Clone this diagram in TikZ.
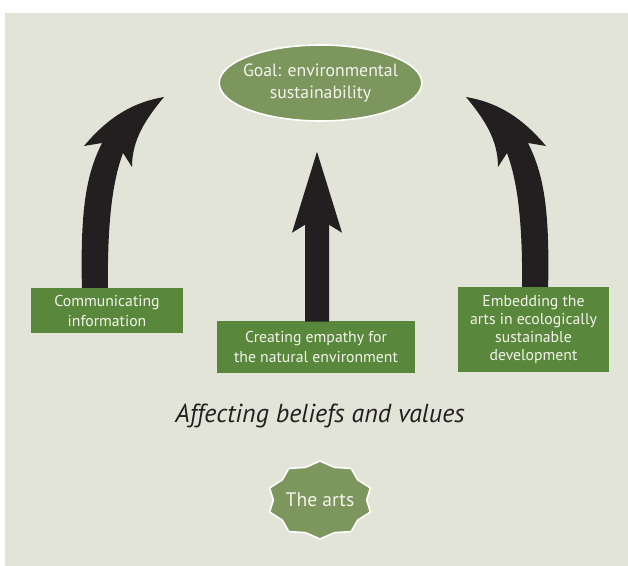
\documentclass[tikz,border=0pt]{standalone}
\usepackage{fontspec}
\setmainfont{PT Sans}
\usetikzlibrary{shapes.geometric}
\definecolor{panel}{HTML}{E1E4D6}
\definecolor{leaf}{HTML}{59873B}
\definecolor{olive}{HTML}{7C965D}
\definecolor{ink}{HTML}{231F20}
\definecolor{paper}{HTML}{F4F4EC}
\begin{document}
\begin{tikzpicture}[x=0.75pt,y=-0.75pt,
  actionbox/.style={rectangle, fill=leaf, text=paper, inner sep=0pt, align=center,
    font=\fontsize{11.8}{15}\selectfont},
  goalshape/.style={ellipse, fill=olive, draw=white, line width=1.2pt, text=paper,
    inner xsep=-6pt, inner ysep=0pt, align=center, minimum width=152pt, minimum height=57pt,
    font=\fontsize{13.3}{16}\selectfont},
  bigarrow/.style={fill=ink}]
\useasboundingbox (0,0) rectangle (628,566);
\fill[panel] (5,13) rectangle (628,566);

% goal at the top
\node[goalshape] (goal) at (320.5,83) {Goal: environmental\\sustainability};

% curved arrow on the left, mirrored for the right one
\fill[bigarrow] (82,292) .. controls (80,210) and (86,175) .. (102,143)
  -- (84,146) .. controls (110,115) and (135,102) .. (164,97)
  .. controls (145,120) and (132,140) .. (132,167)
  -- (123,153) .. controls (113,180) and (107,220) .. (108,292) -- cycle;
\begin{scope}[shift={(630,0)}, xscale=-1]
\fill[bigarrow] (82,292) .. controls (80,210) and (86,175) .. (102,143)
  -- (84,146) .. controls (110,115) and (135,102) .. (164,97)
  .. controls (145,120) and (132,140) .. (132,167)
  -- (123,153) .. controls (113,180) and (107,220) .. (108,292) -- cycle;
\end{scope}

% the three ways the arts act
\node[actionbox, minimum width=114pt, minimum height=33.75pt] (info) at (107,310.5)
  {Communicating\\information};
\node[actionbox, minimum width=148.5pt, minimum height=39pt] (empathy) at (316,347)
  {Creating empathy for\\the natural environment};
\node[actionbox, minimum width=113.25pt, minimum height=63.75pt,
  font=\fontsize{11.8}{13.5}\selectfont] (embed) at (533.5,329.5)
  {Embedding the\\arts in ecologically\\sustainable\\development};

% straight arrow rising from the middle box
\fill[bigarrow] (empathy.north) ++(-11,1) -- ++(0,-97) -- ++(-13,8) -- ++(25,-81)
  -- ++(25,81) -- ++(-13,-8) -- ++(0,97) -- cycle;

\node[font=\fontsize{19.5}{22}\selectfont\itshape, text=ink] (theme) at (320,416)
  {Affecting beliefs and values};

% ten-pointed badge
\begin{scope}[shift={(320,500)}]
\draw[fill=olive, draw=white, line width=1.2pt, line join=miter]
  (90:53 and 39) \foreach \a in {90,126,...,378} { -- ({\a+18}:46.6 and 34.3) -- ({\a+36}:53 and 39) }
  -- (72:46.6 and 34.3) -- cycle;
\end{scope}
\node[text=paper, font=\fontsize{14.7}{17}\selectfont] (arts) at (320,500) {The arts};
\end{tikzpicture}
\end{document}
